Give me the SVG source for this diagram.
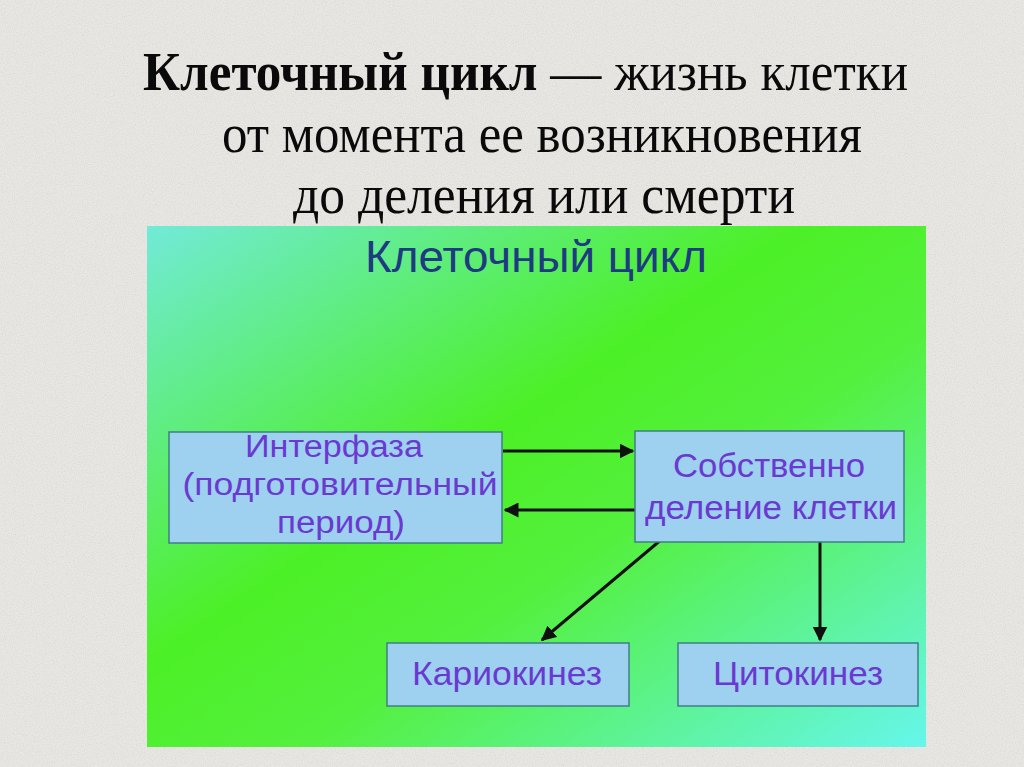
<svg xmlns="http://www.w3.org/2000/svg" width="1024" height="767" viewBox="0 0 1024 767">
<defs>
<linearGradient id="panel" x1="0" y1="0" x2="1" y2="1">
<stop offset="0" stop-color="#72ead8"/>
<stop offset="0.42" stop-color="#4cf026"/>
<stop offset="0.6" stop-color="#54f03e"/>
<stop offset="1" stop-color="#66f6ec"/>
</linearGradient>
<filter id="noise" x="0" y="0" width="100%" height="100%">
<feTurbulence type="fractalNoise" baseFrequency="0.9" numOctaves="2" seed="3"/>
<feColorMatrix type="matrix" values="0 0 0 0 0.55  0 0 0 0 0.54  0 0 0 0 0.52  0 0 0 1.4 -0.55"/>
</filter>
<marker id="ah" viewBox="0 0 10 10" refX="9" refY="5" markerWidth="5" markerHeight="5" orient="auto" markerUnits="strokeWidth">
<path d="M0,0 L10,5 L0,10 z" fill="#101010"/>
</marker>
<style>
.hdr{font-family:"Liberation Serif","Times New Roman",serif;font-size:54px;fill:#0a0a0a}
.box{fill:#9ed0f0;stroke:#3f7f86;stroke-width:1.5}
.lbl{font-family:"Liberation Sans",Arial,sans-serif;font-size:34px;fill:#6a3ad0;text-anchor:middle}
.lbs{font-family:"Liberation Sans",Arial,sans-serif;font-size:31px;fill:#6a3ad0;text-anchor:middle}
.ttl{font-family:"Liberation Sans",Arial,sans-serif;font-size:44px;fill:#1e3a80;text-anchor:middle}
.con{stroke:#101010;stroke-width:3;fill:none;marker-end:url(#ah)}
</style>
</defs>
<rect width="1024" height="767" fill="#e9e7e3"/>
<rect width="1024" height="767" filter="url(#noise)" opacity="0.5"/>
<g id="header">
<text class="hdr" x="143" y="90" textLength="765" lengthAdjust="spacingAndGlyphs"><tspan font-weight="bold">Клеточный цикл</tspan> — жизнь клетки</text>
<text class="hdr" x="222" y="152" textLength="640" lengthAdjust="spacingAndGlyphs">от момента ее возникновения</text>
<text class="hdr" x="293" y="213" textLength="502" lengthAdjust="spacingAndGlyphs">до деления или смерти</text>
</g>
<g id="panel">
<rect x="147" y="226" width="779" height="521" fill="url(#panel)"/>
<text class="ttl" x="536" y="272" textLength="342" lengthAdjust="spacingAndGlyphs">Клеточный цикл</text>
</g>
<g id="connectors">
<line class="con" x1="503" y1="451" x2="633" y2="451"/>
<line class="con" x1="635" y1="510" x2="505" y2="510"/>
<line class="con" x1="662" y1="539" x2="542" y2="640"/>
<line class="con" x1="820" y1="539" x2="820" y2="640"/>
</g>
<g id="interphase">
<rect class="box" x="169" y="432" width="333" height="111"/>
<text class="lbs" x="334" y="457" textLength="178" lengthAdjust="spacingAndGlyphs">Интерфаза</text>
<text class="lbs" x="340" y="495" textLength="315" lengthAdjust="spacingAndGlyphs">(подготовительный</text>
<text class="lbs" x="341" y="533" textLength="128" lengthAdjust="spacingAndGlyphs">период)</text>
</g>
<g id="division">
<rect class="box" x="635" y="431" width="269" height="111"/>
<text class="lbl" x="769" y="477" textLength="192" lengthAdjust="spacingAndGlyphs">Собственно</text>
<text class="lbl" x="771" y="519" textLength="252" lengthAdjust="spacingAndGlyphs">деление клетки</text>
</g>
<g id="karyokinesis">
<rect class="box" x="387" y="643" width="242" height="63"/>
<text class="lbl" x="507" y="685" textLength="190" lengthAdjust="spacingAndGlyphs">Кариокинез</text>
</g>
<g id="cytokinesis">
<rect class="box" x="678" y="643" width="240" height="63"/>
<text class="lbl" x="798" y="685" textLength="170" lengthAdjust="spacingAndGlyphs">Цитокинез</text>
</g>
</svg>
